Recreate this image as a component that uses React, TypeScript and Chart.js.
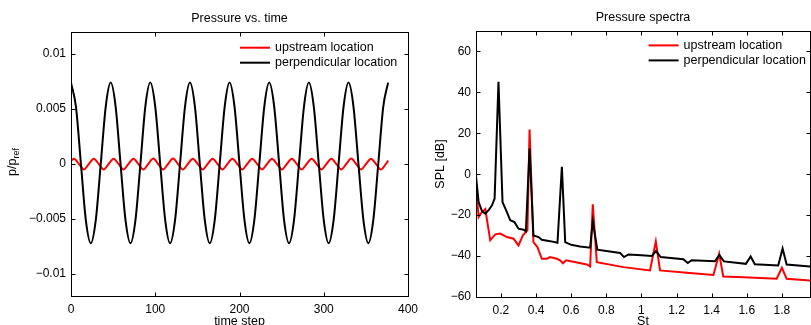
import React, { useEffect, useRef } from "react";
import { Chart, registerables } from "chart.js";
Chart.register(...registerables);

const FONT = "'Liberation Sans', Arial, Helvetica, sans-serif";

// ---------- Left panel: pressure vs. time ----------
const timeBlack = [0, 5.9, 11.8, 17.6, 23.5, 29.4, 35.3, 41.2, 47.1, 53.0, 58.8, 64.7, 70.6, 76.5, 82.4, 88.2, 94.1, 100.0, 105.9, 111.8, 117.6, 123.5, 129.4, 135.3, 141.2, 147.1, 152.9, 158.8, 164.7, 170.6, 176.5, 182.4, 188.2, 194.1, 200.0, 205.9, 211.7, 217.6, 223.5, 229.4, 235.3, 241.2, 247.1, 252.9, 258.8, 264.7, 270.6, 276.5, 282.3, 288.2, 294.1, 300.0, 305.8, 311.7, 317.6, 323.5, 329.4, 335.3, 341.2, 347.1, 352.9, 358.8, 364.7, 370.6, 376.4];
const pBlack = [
  0.0074, 0.0052, 0, -0.0051, -0.0072, -0.0051, 0, 0.0052,
  0.0074, 0.0052, 0, -0.0051, -0.0072, -0.0051, 0, 0.0052,
  0.0074, 0.0052, 0, -0.0051, -0.0072, -0.0051, 0, 0.0052,
  0.0074, 0.0052, 0, -0.0051, -0.0072, -0.0051, 0, 0.0052,
  0.0074, 0.0052, 0, -0.0051, -0.0072, -0.0051, 0, 0.0052,
  0.0074, 0.0052, 0, -0.0051, -0.0072, -0.0051, 0, 0.0052,
  0.0074, 0.0052, 0, -0.0051, -0.0072, -0.0051, 0, 0.0052,
  0.0074, 0.0052, 0, -0.0051, -0.0072, -0.0051, 0, 0.0052,
  0.0074,
];
const timeRed = [0, 3.6, 9.5, 15.3, 21.2, 27.1, 33.0, 38.8, 44.7, 50.6, 56.5, 62.3, 68.2, 74.1, 80.0, 85.8, 91.7, 97.6, 103.5, 109.3, 115.2, 121.1, 127.0, 132.8, 138.7, 144.6, 150.5, 156.3, 162.2, 168.1, 174.0, 179.8, 185.7, 191.6, 197.5, 203.3, 209.2, 215.1, 221.0, 226.8, 232.7, 238.6, 244.5, 250.3, 256.2, 262.1, 268.0, 273.8, 279.7, 285.6, 291.5, 297.3, 303.2, 309.1, 315.0, 320.8, 326.7, 332.6, 338.5, 344.3, 350.2, 356.1, 362.0, 367.8, 373.7, 376.5];
const pRed = [
  0.0003,
  0.00047, 0, -0.0005, 0, 0.00047, 0, -0.0005, 0,
  0.00047, 0, -0.0005, 0, 0.00048, 0, -0.0005, 0,
  0.0005, 0, -0.0005, 0, 0.0005, 0, -0.0005, 0,
  0.00048, 0, -0.0005, 0, 0.00047, 0, -0.0005, 0,
  0.00047, 0, -0.0005, 0, 0.00047, 0, -0.0005, 0,
  0.00047, 0, -0.0005, 0, 0.00047, 0, -0.0005, 0,
  0.00048, 0, -0.0005, 0, 0.00047, 0, -0.0005, 0,
  0.0005, 0, -0.0005, 0, 0.00048, 0, -0.0005, 0,
  0.0003,
];
const timeTicks = [0, 100, 200, 300, 400];
const timeTickLabels = ["0", "100", "200", "300", "400"];
const pTicks = [0.01, 0.005, 0, -0.005, -0.01];
const pTickLabels = ["0.01", "0.005", "0", "\u22120.005", "\u22120.01"];

// ---------- Right panel: pressure spectra ----------
const stBlack = [0.058, 0.073, 0.092, 0.111, 0.13, 0.149, 0.164, 0.186, 0.209, 0.234, 0.253, 0.277, 0.3, 0.329, 0.342, 0.363, 0.385, 0.414, 0.433, 0.48, 0.522, 0.547, 0.566, 0.6, 0.65, 0.708, 0.723, 0.749, 0.8, 0.879, 0.901, 0.926, 1.0, 1.059, 1.083, 1.11, 1.239, 1.264, 1.286, 1.419, 1.443, 1.47, 1.595, 1.622, 1.646, 1.779, 1.804, 1.827, 1.96];
const splBlack = [-1, -13.6, -18, -19.3, -17.6, -15.2, -11.9, 45.2, -13.6, -18.5, -22.5, -23.4, -26.6, -27.1, -27.9, 12.6, -29.9, -30.7, -32, -32.7, -33.5, 3.6, -33.2, -34.5, -35.3, -35.9, -23, -36.9, -37.5, -38.5, -40.5, -39.2, -39.6, -40, -37.6, -40.5, -41.5, -43.4, -42, -42.5, -39.5, -42.6, -43.8, -40.2, -44, -44.6, -36.3, -44.1, -45.1];
const stRed = [0.058, 0.073, 0.083, 0.092, 0.111, 0.139, 0.168, 0.196, 0.234, 0.272, 0.3, 0.325, 0.351, 0.363, 0.385, 0.408, 0.433, 0.462, 0.48, 0.518, 0.537, 0.553, 0.571, 0.689, 0.708, 0.723, 0.746, 0.898, 1.049, 1.082, 1.106, 1.258, 1.41, 1.443, 1.466, 1.58, 1.77, 1.8, 1.827, 1.96];
const splRed = [-6, -20.9, -19.5, -18.5, -17, -32.3, -29.4, -29, -30.7, -31.5, -34.8, -29.9, -27.4, 21.9, -33.2, -35.6, -41.3, -41.3, -40.5, -41.3, -42.1, -43.5, -42.1, -44.1, -45.1, -14.7, -43, -45.4, -47, -32.8, -47, -48.2, -49.2, -38.9, -50, -50.3, -51.1, -45.7, -51.1, -51.9];
const stTicks = [0.2, 0.4, 0.6, 0.8, 1, 1.2, 1.4, 1.6, 1.8];
const stTickLabels = ["0.2", "0.4", "0.6", "0.8", "1", "1.2", "1.4", "1.6", "1.8"];
const splTicks = [60, 40, 20, 0, -20, -40, -60];
const splTickLabels = ["60", "40", "20", "0", "\u221220", "\u221240", "\u221260"];

const seriesNames = ["upstream location", "perpendicular location"];
const seriesColors = ["#ff0000", "#000000"];

const zip = (xs: number[], ys: number[]) => xs.map((x, i) => ({ x, y: ys[i] }));

const labelFor = (vals: number[], labels: string[]) => (v: any) => {
  const i = vals.findIndex((t) => Math.abs(t - Number(v)) < 1e-9);
  return i >= 0 ? labels[i] : "";
};

const framePlugin = {
  id: "frame",
  afterDatasetsDraw(chart: any, _args: any, opts: any) {
    const { ctx, chartArea: a, scales } = chart;
    ctx.save();
    ctx.strokeStyle = "#000";
    ctx.lineWidth = 1;
    const L = 4;
    const left = Math.round(a.left) + 0.5;
    const right = Math.round(a.right) + 0.5;
    const top = Math.round(a.top) + 0.5;
    const bottom = Math.round(a.bottom) + 0.5;
    ctx.beginPath();
    for (const t of scales.x.ticks) {
      const px = Math.round(scales.x.getPixelForValue(t.value)) + 0.5;
      ctx.moveTo(px, bottom);
      ctx.lineTo(px, bottom - L);
      ctx.moveTo(px, top);
      ctx.lineTo(px, top + L);
    }
    for (const t of scales.y.ticks) {
      const py = Math.round(scales.y.getPixelForValue(t.value)) + 0.5;
      ctx.moveTo(left, py);
      ctx.lineTo(left + L, py);
      ctx.moveTo(right, py);
      ctx.lineTo(right - L, py);
    }
    ctx.stroke();
    ctx.strokeRect(left, top, right - left, bottom - top);

    // legend
    const lx = a.left + opts.legendX;
    for (let i = 0; i < seriesNames.length; i++) {
      const ly = a.top + opts.legendY + i * 15;
      ctx.beginPath();
      ctx.strokeStyle = seriesColors[i];
      ctx.lineWidth = 2;
      ctx.moveTo(lx, ly);
      ctx.lineTo(lx + 30, ly);
      ctx.stroke();
      ctx.fillStyle = "#000";
      ctx.font = `12.5px ${FONT}`;
      ctx.textBaseline = "middle";
      ctx.textAlign = "left";
      ctx.fillText(seriesNames[i], lx + 35, ly);
    }

    // custom y-title with subscript
    if (opts.yTitle) {
      const { main, sub, x, y } = opts.yTitle;
      ctx.translate(x, y);
      ctx.rotate(-Math.PI / 2);
      ctx.fillStyle = "#000";
      ctx.textBaseline = "alphabetic";
      ctx.textAlign = "left";
      ctx.font = `12.5px ${FONT}`;
      const w1 = ctx.measureText(main).width;
      ctx.font = `9px ${FONT}`;
      const w2 = ctx.measureText(sub).width;
      const x0 = -(w1 + w2) / 2;
      ctx.font = `12.5px ${FONT}`;
      ctx.fillText(main, x0, 0);
      ctx.font = `9px ${FONT}`;
      ctx.fillText(sub, x0 + w1, 2.5);
    }
    ctx.restore();
  },
};

const tickFont = { family: FONT, size: 12 };
const titleFont = { family: FONT, size: 12.5 };
const noGrid = { display: false, drawTicks: false, tickLength: 0 };

function leftConfig(): any {
  return {
    type: "line",
    data: {
      datasets: [
        { label: seriesNames[1], data: zip(timeBlack, pBlack), borderColor: seriesColors[1], borderWidth: 2, pointRadius: 0, cubicInterpolationMode: "monotone", fill: false },
        { label: seriesNames[0], data: zip(timeRed, pRed), borderColor: seriesColors[0], borderWidth: 2, pointRadius: 0, cubicInterpolationMode: "monotone", fill: false },
      ],
    },
    options: {
      animation: false,
      responsive: false,
      events: [],
      layout: { padding: { left: 0, right: 22, top: 0, bottom: 0 } },
      plugins: {
        legend: { display: false },
        tooltip: { enabled: false },
        title: { display: true, text: "Pressure vs. time", color: "#000", font: { ...titleFont, weight: "normal" }, padding: { top: 11, bottom: 6 }, fullSize: false },
        frame: { legendX: 169, legendY: 15.7, yTitle: { main: "p/p", sub: "ref", x: 16, y: 162 } },
      },
      scales: {
        x: {
          type: "linear",
          min: 0,
          max: 400,
          afterBuildTicks: (s: any) => { s.ticks = timeTicks.map((v) => ({ value: v })); },
          afterFit: (s: any) => { s.height = 39; },
          ticks: { callback: labelFor(timeTicks, timeTickLabels), font: tickFont, color: "#000", padding: 6, maxRotation: 0, autoSkip: false },
          grid: noGrid,
          border: { display: false },
          title: { display: true, text: "time step", color: "#000", font: titleFont, padding: { top: 0, bottom: 6 } },
        },
        y: {
          type: "linear",
          min: -0.012,
          max: 0.012,
          afterBuildTicks: (s: any) => { s.ticks = pTicks.map((v) => ({ value: v })); },
          afterFit: (s: any) => { s.width = 71; },
          ticks: { callback: labelFor(pTicks, pTickLabels), font: tickFont, color: "#000", padding: 5, autoSkip: false },
          grid: noGrid,
          border: { display: false },
        },
      },
    },
    plugins: [framePlugin],
  };
}

function rightConfig(): any {
  return {
    type: "line",
    data: {
      datasets: [
        { label: seriesNames[1], data: zip(stBlack, splBlack), borderColor: seriesColors[1], borderWidth: 2, pointRadius: 0, tension: 0, fill: false },
        { label: seriesNames[0], data: zip(stRed, splRed), borderColor: seriesColors[0], borderWidth: 2, pointRadius: 0, tension: 0, fill: false },
      ],
    },
    options: {
      animation: false,
      responsive: false,
      events: [],
      layout: { padding: { left: 0, right: 1, top: 0, bottom: 0 } },
      plugins: {
        legend: { display: false },
        tooltip: { enabled: false },
        title: { display: true, text: "Pressure spectra", color: "#000", font: { ...titleFont, weight: "normal" }, padding: { top: 10, bottom: 6 }, fullSize: false },
        frame: { legendX: 172.6, legendY: 14.4 },
      },
      scales: {
        x: {
          type: "linear",
          min: 0.058,
          max: 1.96,
          afterBuildTicks: (s: any) => { s.ticks = stTicks.map((v) => ({ value: v })); },
          afterFit: (s: any) => { s.height = 38; },
          ticks: { callback: labelFor(stTicks, stTickLabels), font: tickFont, color: "#000", padding: 6, maxRotation: 0, autoSkip: false },
          grid: noGrid,
          border: { display: false },
          title: { display: true, text: "St", color: "#000", font: titleFont, padding: { top: 0, bottom: 6 } },
        },
        y: {
          type: "linear",
          min: -60,
          max: 70,
          afterBuildTicks: (s: any) => { s.ticks = splTicks.map((v) => ({ value: v })); },
          afterFit: (s: any) => { s.width = 66; },
          ticks: { callback: labelFor(splTicks, splTickLabels), font: tickFont, color: "#000", padding: 5, autoSkip: false },
          grid: noGrid,
          border: { display: false },
          title: { display: true, text: "SPL [dB]", color: "#000", font: titleFont, padding: { top: 23.5, bottom: 0 } },
        },
      },
    },
    plugins: [framePlugin],
  };
}

export default function App() {
  const leftRef = useRef<HTMLCanvasElement>(null);
  const rightRef = useRef<HTMLCanvasElement>(null);
  useEffect(() => {
    const c1 = new Chart(leftRef.current as HTMLCanvasElement, leftConfig());
    const c2 = new Chart(rightRef.current as HTMLCanvasElement, rightConfig());
    return () => {
      c1.destroy();
      c2.destroy();
    };
  }, []);
  return (
    <div style={{ position: "absolute", left: 0, top: 0, width: 811, height: 325, overflow: "hidden", background: "#fff" }}>
      <canvas ref={leftRef} width={430} height={335} style={{ position: "absolute", left: 0, top: 0, width: 430, height: 335 }} />
      <canvas ref={rightRef} width={401} height={335} style={{ position: "absolute", left: 410, top: 0, width: 401, height: 335 }} />
    </div>
  );
}
